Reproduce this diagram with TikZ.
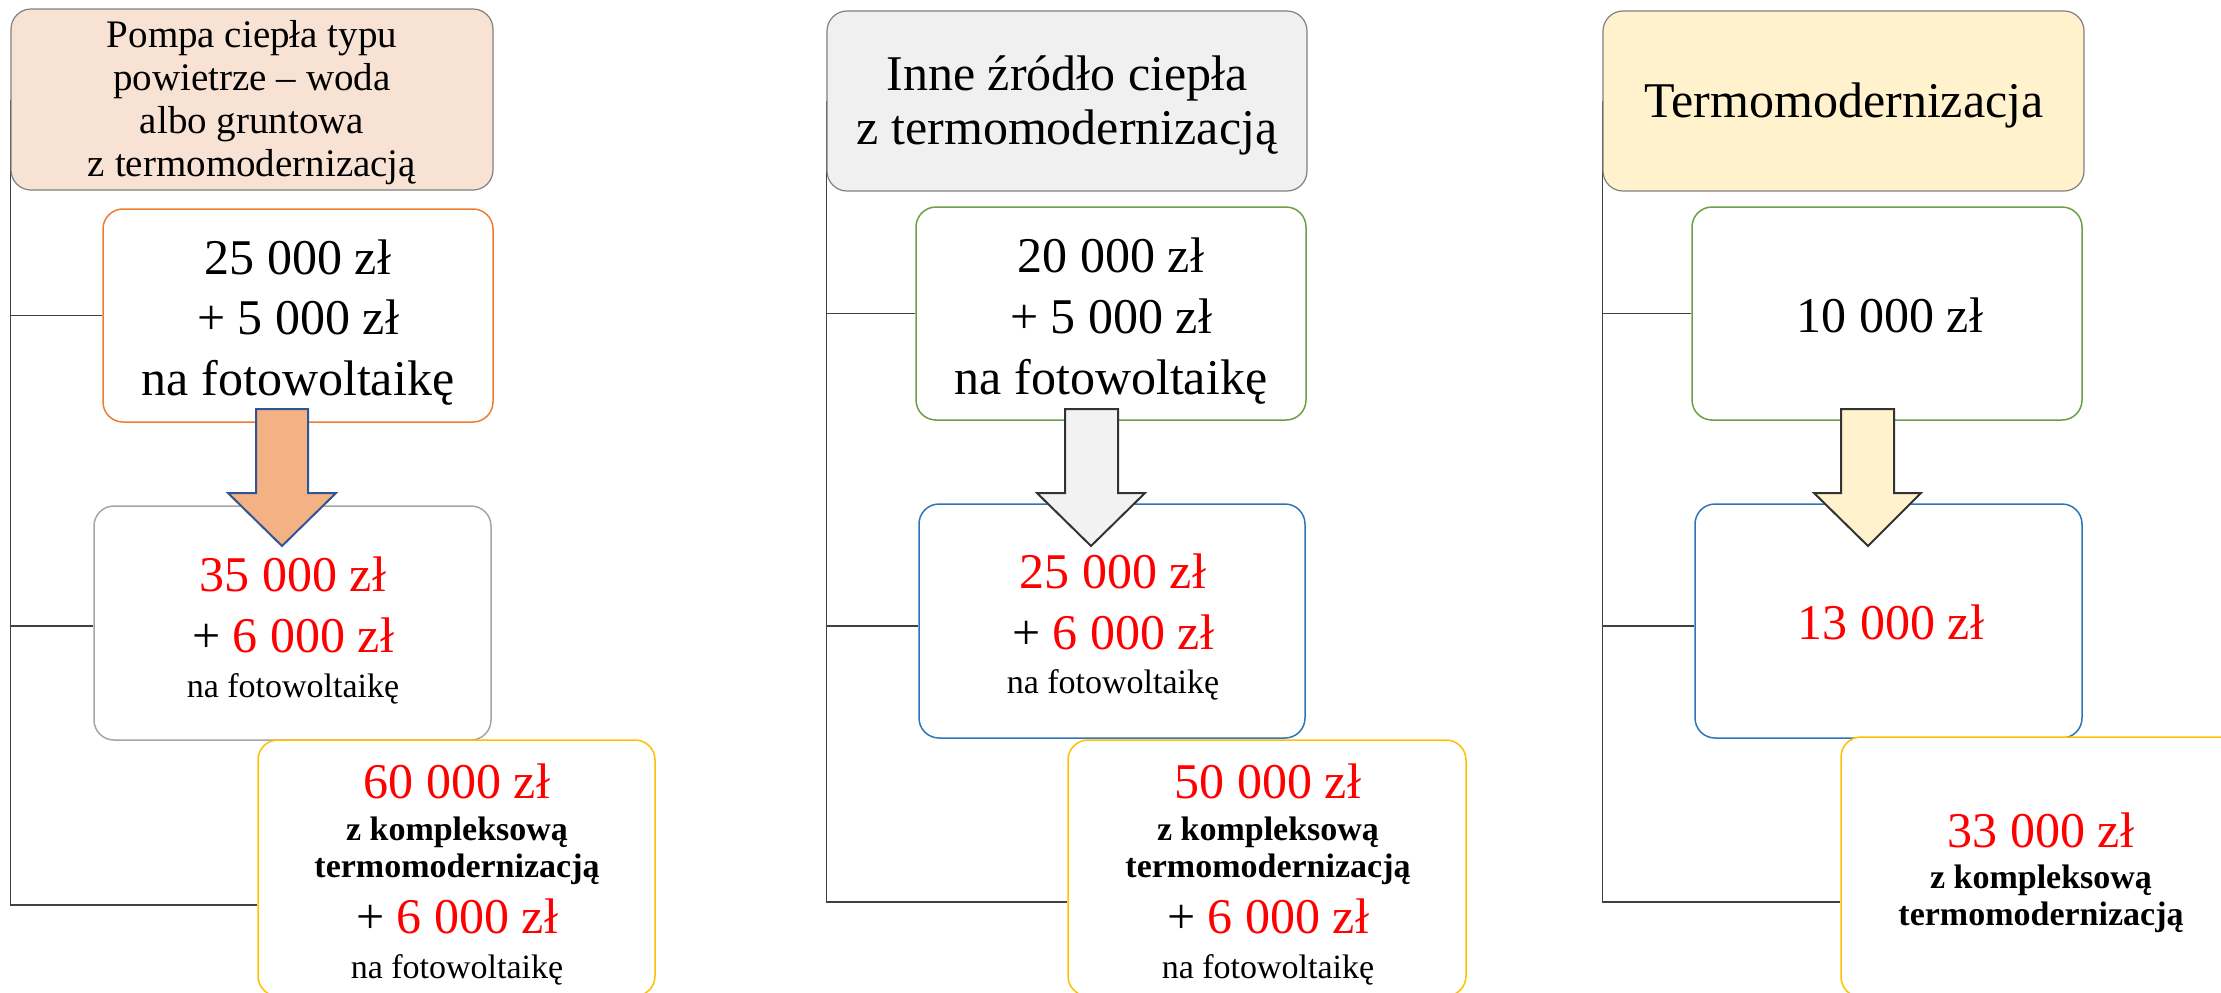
\documentclass[tikz,border=0pt]{standalone}
\usepackage{fontspec}
\setmainfont{Liberation Serif}
\usetikzlibrary{backgrounds}
\definecolor{hdrA}{HTML}{F8E2D4}
\definecolor{hdrB}{HTML}{F0F0F0}
\definecolor{hdrC}{HTML}{FFF2CC}
\definecolor{hdrline}{HTML}{808080}
\definecolor{conngray}{HTML}{404040}
\definecolor{bOrange}{HTML}{ED7D31}
\definecolor{bGray}{HTML}{A5A5A5}
\definecolor{bYellow}{HTML}{FFC000}
\definecolor{bGreen}{HTML}{6A9F45}
\definecolor{bBlue}{HTML}{2E75B6}
\definecolor{arOrange}{HTML}{F4B183}
\definecolor{arBlue}{HTML}{2F5597}
\definecolor{arGray}{HTML}{F2F2F2}
\definecolor{arDark}{HTML}{333333}
\definecolor{numred}{HTML}{FF0000}
\begin{document}
\begin{tikzpicture}[x=0.5pt,y=-0.5pt,
  hdr/.style={draw=hdrline, line width=0.6pt, rounded corners=10pt, inner sep=0pt},
  box/.style={fill=white, line width=0.75pt, rounded corners=10pt, inner sep=0pt},
  conn/.style={draw=conngray, line width=0.9pt},
  txt/.style={anchor=base, inner sep=0pt},
  big/.style={font=\fontsize{25}{30}\selectfont},
  hsmall/.style={font=\fontsize{19.5}{23}\selectfont},
  small/.style={font=\fontsize{17}{20}\selectfont},
  bsmall/.style={font=\fontsize{17}{20}\selectfont\bfseries},
  blockarrow/.style={line width=1pt, line join=miter}
]
\useasboundingbox (0,0) rectangle (2221,992);
\clip (0,0) rectangle (2221,992);

% ---------- Column 1 ----------
\node[hdr, fill=hdrA, minimum width=241pt, minimum height=90.5pt] (h1) at (252,99.5) {};
\node[box, draw=bOrange, minimum width=195pt, minimum height=106.5pt] (b11) at (298,315.5) {};
\node[box, draw=bGray, minimum width=198.5pt, minimum height=117pt] (b12) at (292.5,623) {};
\node[box, draw=bYellow, minimum width=198.5pt, minimum height=128pt] (b13) at (456.5,868) {};

\node[txt, hsmall] (h1a) at (252,47) {Pompa ciepła typu};
\node[txt, hsmall] (h1b) at (252,90) {powietrze – woda};
\node[txt, hsmall] (h1c) at (252,133) {albo gruntowa};
\node[txt, hsmall] (h1d) at (252,176) {z termomodernizacją};

\node[txt, big] (b11a) at (298,274) {25 000 zł};
\node[txt, big] (b11b) at (298,334) {+ 5 000 zł};
\node[txt, big] (b11c) at (298,395) {na fotowoltaikę};

\node[txt, big, text=numred] (b12a) at (293,591) {35 000 zł};
\node[txt, big] (b12b) at (293,652) {+ \textcolor{numred}{6 000 zł}};
\node[txt, small] (b12c) at (293,697) {na fotowoltaikę};

\node[txt, big, text=numred] (b13a) at (457,798) {60 000 zł};
\node[txt, bsmall] (b13b) at (457,840) {z kompleksową};
\node[txt, bsmall] (b13c) at (457,877) {termomodernizacją};
\node[txt, big] (b13d) at (457,933) {+ \textcolor{numred}{6 000 zł}};
\node[txt, small] (b13e) at (457,978) {na fotowoltaikę};

\draw[blockarrow, draw=arBlue, fill=arOrange]
  (256,409) -- (308,409) -- (308,493) -- (336,493) -- (282,546) -- (228,493) -- (256,493) -- cycle;

% ---------- Column 2 ----------
\node[hdr, fill=hdrB, minimum width=240pt, minimum height=90pt] (h2) at (1067,101) {};
\node[box, draw=bGreen, minimum width=195pt, minimum height=106.5pt] (b21) at (1111,313.5) {};
\node[box, draw=bBlue, minimum width=193pt, minimum height=117pt] (b22) at (1112,621) {};
\node[box, draw=bYellow, minimum width=199pt, minimum height=128pt] (b23) at (1267,868) {};

\node[txt, big] (h2a) at (1067,90) {Inne źródło ciepła};
\node[txt, big] (h2b) at (1067,144) {z termomodernizacją};

\node[txt, big] (b21a) at (1111,272) {20 000 zł};
\node[txt, big] (b21b) at (1111,333) {+ 5 000 zł};
\node[txt, big] (b21c) at (1111,394) {na fotowoltaikę};

\node[txt, big, text=numred] (b22a) at (1113,588) {25 000 zł};
\node[txt, big] (b22b) at (1113,649) {+ \textcolor{numred}{6 000 zł}};
\node[txt, small] (b22c) at (1113,693) {na fotowoltaikę};

\node[txt, big, text=numred] (b23a) at (1268,798) {50 000 zł};
\node[txt, bsmall] (b23b) at (1268,840) {z kompleksową};
\node[txt, bsmall] (b23c) at (1268,877) {termomodernizacją};
\node[txt, big] (b23d) at (1268,933) {+ \textcolor{numred}{6 000 zł}};
\node[txt, small] (b23e) at (1268,978) {na fotowoltaikę};

\draw[blockarrow, draw=arDark, fill=arGray]
  (1065,409) -- (1118,409) -- (1118,493) -- (1145,493) -- (1091,546) -- (1037,493) -- (1065,493) -- cycle;

% ---------- Column 3 ----------
\node[hdr, fill=hdrC, minimum width=240.5pt, minimum height=90pt] (h3) at (1843.5,101) {};
\node[box, draw=bGreen, minimum width=195pt, minimum height=106.5pt] (b31) at (1887,313.5) {};
\node[box, draw=bBlue, minimum width=193.5pt, minimum height=117pt] (b32) at (1888.5,621) {};
\node[box, draw=bYellow, minimum width=199pt, minimum height=130pt] (b33) at (2040,867) {};

\node[txt, big] (h3a) at (1844,117) {Termomodernizacja};
\node[txt, big] (b31a) at (1890,332) {10 000 zł};
\node[txt, big, text=numred] (b32a) at (1891,639) {13 000 zł};
\node[txt, big, text=numred] (b33a) at (2041,847) {33 000 zł};
\node[txt, bsmall] (b33b) at (2041,888) {z kompleksową};
\node[txt, bsmall] (b33c) at (2041,925) {termomodernizacją};

\draw[blockarrow, draw=arDark, fill=hdrC]
  (1841,409) -- (1894,409) -- (1894,493) -- (1921,493) -- (1868,546) -- (1814,493) -- (1841,493) -- cycle;

% ---------- connectors ----------
\begin{scope}[on background layer]
  \draw[conn] (h1.west) |- (b11.west);
  \draw[conn] (h1.west) |- ([yshift=-1.5pt]b12.west);
  \draw[conn] (h1.west) |- ([yshift=-18.5pt]b13.west);
  \draw[conn] (h2.west) |- (b21.west);
  \draw[conn] (h2.west) |- ([yshift=-2.5pt]b22.west);
  \draw[conn] (h2.west) |- ([yshift=-17pt]b23.west);
  \draw[conn] (h3.west) |- (b31.west);
  \draw[conn] (h3.west) |- ([yshift=-2.5pt]b32.west);
  \draw[conn] (h3.west) |- ([yshift=-17.5pt]b33.west);
\end{scope}
\end{tikzpicture}
\end{document}
